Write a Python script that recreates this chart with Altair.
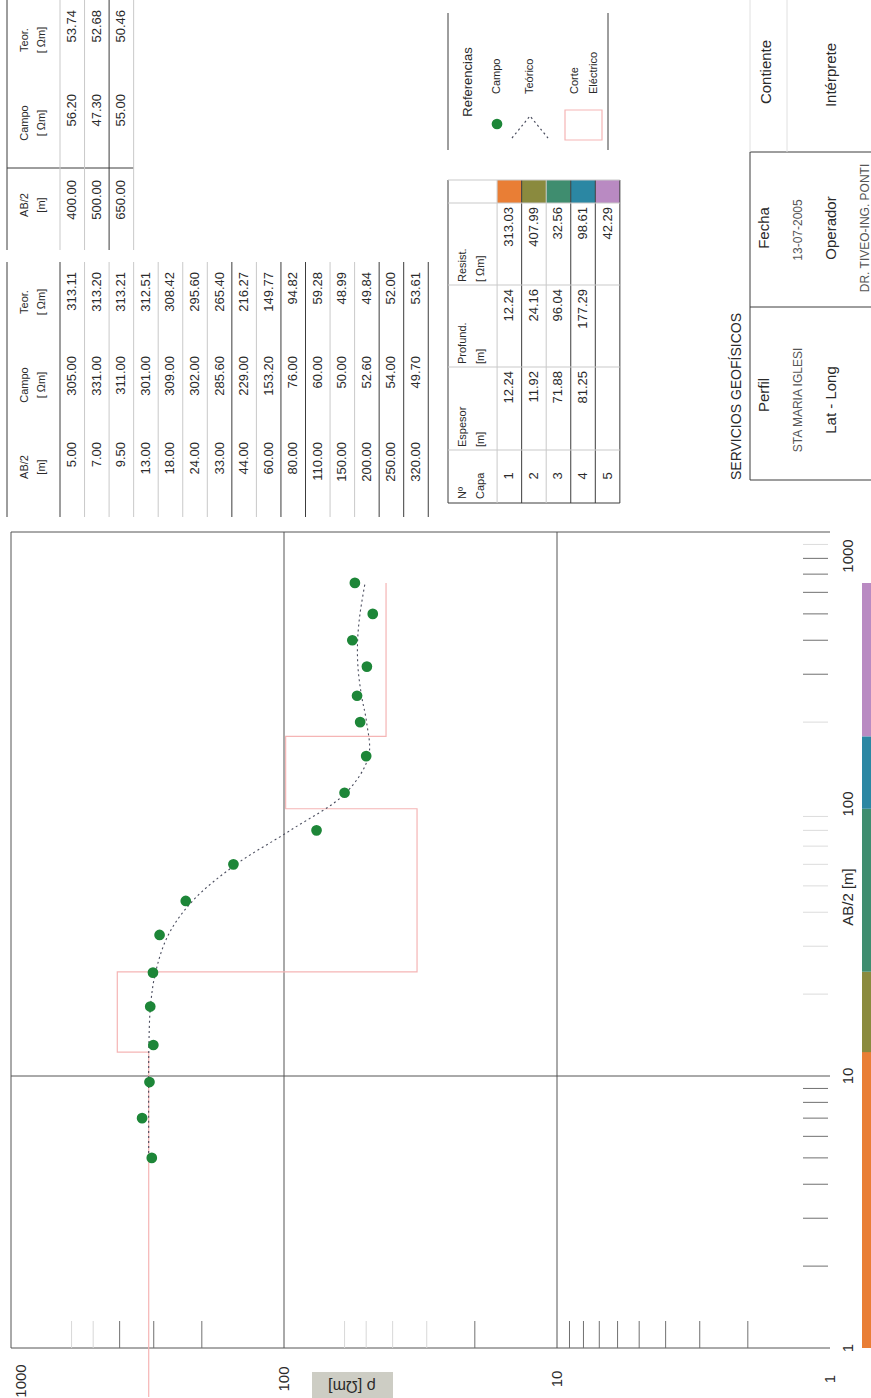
import altair as alt
import pandas as pd

W, H = 871, 1398
FONT = "Liberation Sans"

# ---------------- sounding data ----------------
ab2 = [5.00, 7.00, 9.50, 13.00, 18.00, 24.00, 33.00, 44.00, 60.00, 80.00,
       110.00, 150.00, 200.00, 250.00, 320.00, 400.00, 500.00, 650.00]
campo = [305.00, 331.00, 311.00, 301.00, 309.00, 302.00, 285.60, 229.00, 153.20,
         76.00, 60.00, 50.00, 52.60, 54.00, 49.70, 56.20, 47.30, 55.00]
teor = [313.11, 313.20, 313.21, 312.51, 308.42, 295.60, 265.40, 216.27, 149.77,
        94.82, 59.28, 48.99, 49.84, 52.00, 53.61, 53.74, 52.68, 50.46]

# ---------------- layered model ----------------
capa = ["1", "2", "3", "4", "5"]
espesor = [12.24, 11.92, 71.88, 81.25]
profund = [12.24, 24.16, 96.04, 177.29]
resist = [313.03, 407.99, 32.56, 98.61, 42.29]
capa_colors = ["#e97e35", "#8a8a3e", "#3f8d6f", "#2b87a3", "#b98ac2"]
model_start = 0.66   # the model curve is drawn down past the AB/2 = 1 edge

# ---------------- axis ticks ----------------
rho_labels = [1000, 100, 10, 1]
ab_labels = [1000, 100, 10, 1]
rho_ticks_dark = [2, 3, 4, 5, 6, 7, 8, 9, 20, 200, 300, 400]
rho_ticks_faint = [30, 40, 50, 60, 500, 600]
ab_ticks_dark = [2, 3, 4, 5, 6, 7, 8, 9, 300, 400, 500, 600, 700, 800]
ab_ticks_faint = [20, 30, 40, 50, 60, 70, 80, 90, 200, 900]

# ---------------- scales ----------------
RHO = alt.Scale(type="log", domain=[1, 1000], range=[830, 11], nice=False)
AB = alt.Scale(type="log", domain=[1, 1000], range=[1348, 532], nice=False)
PX = alt.Scale(domain=[0, W], range=[0, W], nice=False, zero=False)
PY = alt.Scale(domain=[0, H], range=[0, H], nice=False, zero=False)

GRID = "#555555"
DARK = "#3c3c3c"
LIGHT = "#c9c9c9"
TXT = "#2a2a2a"


def px_rules(rows, color, width=1.0):
    df = pd.DataFrame(rows, columns=["x1", "x2", "y1", "y2"])
    return alt.Chart(df).mark_rule(color=color, strokeWidth=width).encode(
        x=alt.X("x1:Q", scale=PX, axis=None), x2="x2:Q",
        y=alt.Y("y1:Q", scale=PY, axis=None), y2="y2:Q")


def px_text(rows, align="center", size=13, color=TXT, angle=270):
    df = pd.DataFrame(rows, columns=["x", "y", "t"])
    return alt.Chart(df).mark_text(angle=angle, align=align, baseline="middle",
                                   fontSize=size, font=FONT, color=color).encode(
        x=alt.X("x:Q", scale=PX, axis=None),
        y=alt.Y("y:Q", scale=PY, axis=None),
        text="t:N")


layers = []

# ================= plot: grid, axes, ticks =================
vgrid = pd.DataFrame({"rho": [1000, 100, 10], "lo": 1, "hi": 1000})
layers.append(alt.Chart(vgrid).mark_rule(color=GRID, strokeWidth=1).encode(
    x=alt.X("rho:Q", scale=RHO, axis=None),
    y=alt.Y("lo:Q", scale=AB, axis=None), y2="hi:Q"))
hgrid = pd.DataFrame({"ab": [1, 10, 1000], "lo": 1000, "hi": 1})
layers.append(alt.Chart(hgrid).mark_rule(color=GRID, strokeWidth=1).encode(
    y=alt.Y("ab:Q", scale=AB, axis=None),
    x=alt.X("lo:Q", scale=RHO, axis=None), x2="hi:Q"))

for vals, col in ((rho_ticks_dark, "#707070"), (rho_ticks_faint, "#d8d8d8")):
    layers.append(alt.Chart(pd.DataFrame({"rho": vals})).mark_rule(
        color=col, strokeWidth=1).encode(
        x=alt.X("rho:Q", scale=RHO, axis=None),
        y=alt.value(1321), y2=alt.value(1348)))
for vals, col in ((ab_ticks_dark, "#707070"), (ab_ticks_faint, "#dcdcdc")):
    layers.append(alt.Chart(pd.DataFrame({"ab": vals})).mark_rule(
        color=col, strokeWidth=1).encode(
        y=alt.Y("ab:Q", scale=AB, axis=None),
        x=alt.value(803), x2=alt.value(828)))

# tick labels
lab_r = pd.DataFrame({"rho": rho_labels, "t": [str(v) for v in rho_labels]})
layers.append(alt.Chart(lab_r[lab_r.rho < 1000]).mark_text(
    angle=270, align="center", baseline="middle", fontSize=15, font=FONT, color=TXT).encode(
    x=alt.X("rho:Q", scale=RHO, axis=None), y=alt.value(1379), text="t:N"))
layers.append(alt.Chart(lab_r[lab_r.rho == 1000]).mark_text(
    angle=270, align="center", baseline="middle", fontSize=15, font=FONT, color=TXT,
    dy=10).encode(
    x=alt.X("rho:Q", scale=RHO, axis=None), y=alt.value(1381), text="t:N"))
lab_a = pd.DataFrame({"ab": ab_labels, "t": [str(v) for v in ab_labels]})
layers.append(alt.Chart(lab_a[lab_a.ab < 1000]).mark_text(
    angle=270, align="center", baseline="middle", fontSize=15, font=FONT, color=TXT).encode(
    y=alt.Y("ab:Q", scale=AB, axis=None), x=alt.value(848), text="t:N"))
layers.append(alt.Chart(lab_a[lab_a.ab == 1000]).mark_text(
    angle=270, align="center", baseline="middle", fontSize=15, font=FONT, color=TXT,
    dx=-24).encode(
    y=alt.Y("ab:Q", scale=AB, axis=None), x=alt.value(848), text="t:N"))

# axis titles
title_bg = pd.DataFrame({"x1": [312], "x2": [393], "y1": [1372], "y2": [1398]})
layers.append(alt.Chart(title_bg).mark_rect(color="#cdcdc4").encode(
    x=alt.X("x1:Q", scale=PX, axis=None), x2="x2:Q",
    y=alt.Y("y1:Q", scale=PY, axis=None), y2="y2:Q"))
layers.append(px_text([(352, 1386, "ρ [Ωm]")], size=16, angle=180))
layers.append(px_text([(848, 897, "AB/2 [m]")], size=15))

# ================= plot: model, curve, field points =================
step_rho, step_ab = [resist[0]], [model_start]
for i, z in enumerate(profund):
    step_rho += [resist[i], resist[i + 1]]
    step_ab += [z, z]
step_rho.append(resist[-1])
step_ab.append(ab2[-1])
model = pd.DataFrame({"rho": step_rho, "ab": step_ab, "k": range(len(step_rho))})
layers.append(alt.Chart(model).mark_line(color="#f5b5b5", strokeWidth=1.2).encode(
    x=alt.X("rho:Q", scale=RHO, axis=None),
    y=alt.Y("ab:Q", scale=AB, axis=None), order="k:Q"))

snd = pd.DataFrame({"ab": ab2, "campo": campo, "teor": teor})
layers.append(alt.Chart(snd).mark_line(
    color="#4a4d5e", strokeWidth=1.1, strokeDash=[2, 3], interpolate="catmull-rom").encode(
    x=alt.X("teor:Q", scale=RHO, axis=None),
    y=alt.Y("ab:Q", scale=AB, axis=None), order="ab:Q"))
layers.append(alt.Chart(snd).mark_circle(size=115, color="#1d8638", opacity=1).encode(
    x=alt.X("campo:Q", scale=RHO, axis=None),
    y=alt.Y("ab:Q", scale=AB, axis=None)))

# colour strip of the layers along the AB/2 axis
strip = pd.DataFrame({"capa": capa, "bot": [1] + profund, "top": profund + [ab2[-1]]})
layers.append(alt.Chart(strip).mark_rect().encode(
    y=alt.Y("bot:Q", scale=AB, axis=None), y2="top:Q",
    x=alt.value(862), x2=alt.value(871),
    color=alt.Color("capa:N", scale=alt.Scale(domain=capa, range=capa_colors), legend=None)))

# ================= tables (rotated page) =================
PITCH = 24.55
HEAD1, HEAD2 = 25, 42          # header text lines
ROW0 = 60                      # first row boundary after the header
LEFT = 7


def row_c(i, top=ROW0):
    return top + PITCH * (i + 0.5)


def bound(j, top=ROW0):
    return top + PITCH * j


fmt = lambda v: f"{v:.2f}"

# column tops (numbers are right aligned) and header centres of the sounding tables
C_TEOR, C_CAMPO, C_AB = 10, 94, 180
H_TEOR, H_CAMPO, H_AB = 40, 123, 205
OFF = 262                      # the second table sits below the first one


def sounding_table(idx, off):
    t = []
    for k, i in enumerate(idx):
        x = row_c(k)
        t += [(x, C_AB + off, fmt(ab2[i])), (x, C_CAMPO + off, fmt(campo[i])),
              (x, C_TEOR + off, fmt(teor[i]))]
    out = [px_text(t, align="right", size=13)]
    out.append(px_text([(HEAD1, H_AB + off, "AB/2"), (HEAD2, H_AB + off, "[m]"),
                        (HEAD1, H_CAMPO + off, "Campo"), (HEAD2, H_CAMPO + off, "[ Ωm]"),
                        (HEAD1, H_TEOR + off, "Teor."), (HEAD2, H_TEOR + off, "[ Ωm]")],
                       size=11))
    return out


# --- spacings 400 to 650
layers += sounding_table([15, 16, 17], 0)
layers.append(px_rules([(LEFT, LEFT, 0, 250), (bound(2), bound(2), 0, 250),
                        (LEFT, bound(3), 168, 168)], DARK))
layers.append(px_rules([(bound(0), bound(0), 0, 250), (bound(1), bound(1), 0, 250),
                        (bound(3), bound(3), 0, 250)], LIGHT))

# --- spacings 5 to 320
layers += sounding_table(list(range(15)), OFF)
dark_after = [0, 7, 9, 10, 13, 14, 15]
layers.append(px_rules([(bound(j), bound(j), OFF, 517) for j in range(16) if j in dark_after]
                       + [(LEFT, LEFT, OFF, 517)], DARK))
layers.append(px_rules([(bound(j), bound(j), OFF, 517) for j in range(16) if j not in dark_after],
                       LIGHT))

# --- layer table
LT = 448
LROW = LT + 2 * PITCH
LB = LROW + PITCH * 5
cols = {"n": (450, 503), "e": (367, 450), "p": (285, 367), "r": (203, 285), "c": (180, 203)}
t_right, t_center = [], []
for i in range(5):
    x = row_c(i, LROW)
    t_center.append((x, 476, capa[i]))
    if i < 4:
        t_right.append((x, cols["e"][0] + 4, fmt(espesor[i])))
        t_right.append((x, cols["p"][0] + 4, fmt(profund[i])))
    t_right.append((x, cols["r"][0] + 4, fmt(resist[i])))
layers.append(px_text(t_right, align="right", size=13))
layers.append(px_text(t_center, size=13))
layers.append(px_text([(LT + 15, 499, "Nº"), (LT + 33, 499, "Capa"),
                       (LT + 15, 447, "Espesor"), (LT + 33, 447, "[m]"),
                       (LT + 15, 364, "Profund."), (LT + 33, 364, "[m]"),
                       (LT + 15, 282, "Resist."), (LT + 33, 282, "[  Ωm]")],
                      align="left", size=11))
cells = pd.DataFrame({"capa": capa,
                      "x1": [bound(i, LROW) for i in range(5)],
                      "x2": [bound(i + 1, LROW) for i in range(5)],
                      "y1": cols["c"][0], "y2": cols["c"][1]})
layers.append(alt.Chart(cells).mark_rect().encode(
    x=alt.X("x1:Q", scale=PX, axis=None), x2="x2:Q",
    y=alt.Y("y1:Q", scale=PY, axis=None), y2="y2:Q",
    color=alt.Color("capa:N", scale=alt.Scale(domain=capa, range=capa_colors), legend=None)))
layers.append(px_rules([(LT, LT, 180, 503), (LB, LB, 180, 503),
                        (bound(1, LROW), bound(1, LROW), 180, 503),
                        (bound(3, LROW), bound(3, LROW), 180, 503),
                        (bound(4, LROW), bound(4, LROW), 180, 503),
                        (LT, LB, 503, 503)], DARK))
layers.append(px_rules([(LROW, LROW, 180, 503), (bound(2, LROW), bound(2, LROW), 180, 503),
                        (LT, LB, 450, 450), (LT, LB, 367, 367), (LT, LB, 285, 285),
                        (LT, LB, 203, 203), (LT, LB, 180, 180)], LIGHT))

# --- legend box
layers.append(px_rules([(LT, LT, 13, 150), (608, 608, 13, 150)], DARK))
layers.append(px_text([(LT + 20, 82, "Referencias")], size=13))
layers.append(px_text([(497, 94, "Campo"), (530, 94, "Teórico"),
                       (575, 94, "Corte"), (594, 94, "Eléctrico")], align="left", size=11))
leg_dot = pd.DataFrame({"x": [497], "y": [124]})
layers.append(alt.Chart(leg_dot).mark_circle(size=115, color="#1d8638", opacity=1).encode(
    x=alt.X("x:Q", scale=PX, axis=None), y=alt.Y("y:Q", scale=PY, axis=None)))
leg_line = pd.DataFrame({"x": [512, 530, 548], "y": [138, 116, 138], "k": [0, 1, 2]})
layers.append(alt.Chart(leg_line).mark_line(color="#4a4d5e", strokeWidth=1.2, strokeDash=[2, 3]).encode(
    x=alt.X("x:Q", scale=PX, axis=None), y=alt.Y("y:Q", scale=PY, axis=None), order="k:Q"))
leg_box = pd.DataFrame({"x1": [565], "x2": [602], "y1": [110], "y2": [140]})
layers.append(alt.Chart(leg_box).mark_rect(fill=None, stroke="#f5b5b5", strokeWidth=1.2).encode(
    x=alt.X("x1:Q", scale=PX, axis=None), x2="x2:Q",
    y=alt.Y("y1:Q", scale=PY, axis=None), y2="y2:Q"))

# --- survey information box
layers.append(px_text([(737, 480, "SERVICIOS GEOFÍSICOS")], align="left", size=14))
layers.append(px_text([(764, 395, "Perfil"), (831, 400, "Lat - Long"),
                       (764, 228, "Fecha"), (831, 228, "Operador"),
                       (766, 72, "Contiente"), (831, 75, "Intérprete")], size=15))
layers.append(px_text([(798, 400, "STA MARIA IGLESI"), (798, 230, "13-07-2005"),
                       (865, 228, "DR. TIVEO-ING. PONTI")], size=12, color="#555555"))
layers.append(px_rules([(750, 750, 152, 480), (750, W, 480, 480),
                        (750, W, 307, 307), (750, W, 152, 152)], DARK))
layers.append(px_rules([(750, 750, 0, 152), (787, 787, 0, 152)], "#e0e0e0"))

chart = alt.layer(*layers).resolve_scale(x="independent", y="independent").properties(
    width=W, height=H, autosize=alt.AutoSizeParams(type="none"), padding=0,
    background="white"
).configure_view(stroke=None)

chart.save("out.html", embed_options={"renderer": "svg", "actions": False})
